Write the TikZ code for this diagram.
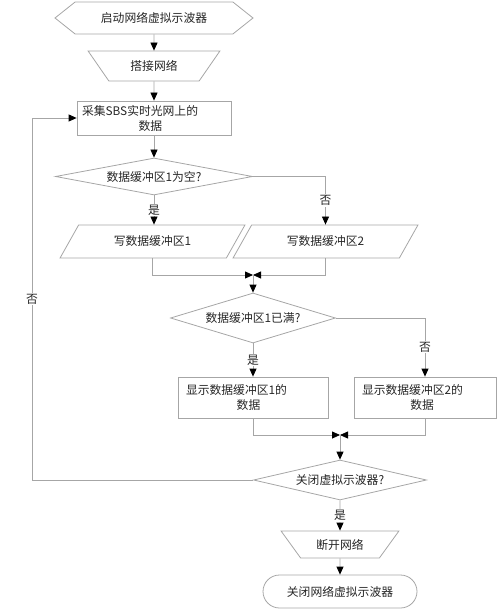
\documentclass[tikz,border=0pt]{standalone}
\usepackage{fontspec}
\newfontfamily\cjk{Noto Sans CJK SC}
\usetikzlibrary{shapes.geometric,shapes.symbols,arrows.meta}
\begin{document}
\begin{tikzpicture}[x=1pt,y=-1pt,
line width=0.8pt,
every node/.style={font=\cjk\fontsize{11.8}{15}\selectfont,text=black!85},
hexa/.style={%
draw=gray!70,
signal,
signal to=west and east,
signal pointer angle=77,
minimum width=198,
minimum height=32
},
box/.style={draw=gray!70,minimum height=34,align=left,inner xsep=5},
dec/.style={draw=gray!70,diamond,inner sep=0pt,aspect=5},
io/.style={%
draw=gray!70,
trapezium,
trapezium left angle=59,
trapezium right angle=121,
trapezium stretches=true,
minimum width=185,
minimum height=33
},
hand/.style={draw=gray!70,trapezium,trapezium stretches=true},
lab/.style={fill=white,inner sep=1pt},
arr/.style={draw=gray!70,-{Triangle[length=8pt,width=7pt,color=black]}}
]
\useasboundingbox(0,0)rectangle(500,612);
%% Start and network
\node[hexa]at(154,18)(start){启动网络虚拟示波器};
\node[hand,trapezium left angle=125,trapezium right angle=125,minimum width=132,minimum height=30]at(154,66)(net){搭接网络};
\node[box,text width=144]at(154,118)(collect){采集SBS实时光网上的\\\hspace*{4.8em}数据};
\draw[arr](start)--(net);
\draw[arr](net)--(collect);
%% Write buffers
\node[dec,minimum width=197,minimum height=37]at(154,176.5)(empty){数据缓冲区1为空?};
\node[io]at(152.5,241.5)(buf1){写数据缓冲区1};
\node[io]at(325.5,241.5)(buf2){写数据缓冲区2};
\coordinate(j1)at(253,275);
\draw[arr](collect)--(empty);
\draw[arr](empty.south)--(empty.south|-buf1.north)node[lab,midway]{是};
\draw[arr](empty.east)-|(buf2.center|-buf2.north)node[lab,pos=0.75]{否};
\draw[arr](buf1.center|-buf1.south)|-(j1);
\draw[arr](buf2.center|-buf2.south)|-(j1);
%% Show buffers
\node[dec,minimum width=165,minimum height=50]at(253,318)(full){数据缓冲区1已满?};
\node[box,text width=134,inner xsep=8,minimum height=41]at(253,397.5)(show1){显示数据缓冲区1的\\\hspace*{4.3em}数据};
\node[box,text width=126,inner xsep=8,minimum height=41]at(425,397.5)(show2){显示数据缓冲区2的\\\hspace*{4.1em}数据};
\coordinate(j2)at(340,435);
\draw[arr](j1)--(full);
\draw[arr](full.south)--(full.south|-show1.north)node[lab,midway]{是};
\draw[arr](full.east)-|(show2.north)node[lab,pos=0.75]{否};
\draw[arr](show1.south)|-(j2);
\draw[arr](show2.south)|-(j2);
%% Close
\node[dec,minimum width=173,minimum height=40]at(340,480)(quit){关闭虚拟示波器?};
\node[hand,trapezium left angle=127,trapezium right angle=127,minimum width=118,minimum height=27]at(340,544.5)(cut){断开网络};
\node[draw=gray!70,rounded corners=16.5,minimum width=154,minimum height=33]at(340,591.5)(stop){关闭网络虚拟示波器};
\coordinate(back)at(32,118);
\draw[arr](j2)--(quit);
\draw[arr](quit)--(cut)node[lab,midway]{是};
\draw[arr](cut)--(stop);
\draw[arr](quit.west)-|(back)node[lab,pos=0.75]{否}--(collect.west);
\end{tikzpicture}
\end{document}
